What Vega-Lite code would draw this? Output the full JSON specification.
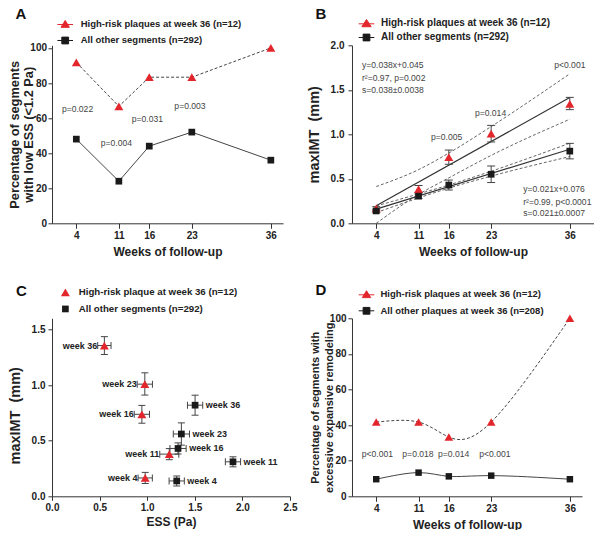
{
  "$schema": "https://vega.github.io/schema/vega-lite/v6.json",
  "padding": {"left": 7, "top": 6.3, "right": 0, "bottom": 0},
  "autosize": {"type": "pad"},
  "background": "white",
  "config": {
    "font": "Liberation Sans",
    "view": {"stroke": null},
    "axis": {"grid": false, "domainColor": "#333", "tickColor": "#333", "labelFont": "Liberation Sans", "labelFontSize": 10, "labelFontWeight": "bold", "labelColor": "#222", "titleFont": "Liberation Sans", "titleFontWeight": "bold", "titleFontSize": 12, "titleColor": "#222", "tickSize": 4, "labelFlush": false, "labelOverlap": false},
    "legend": {"labelFont": "Liberation Sans", "labelFontWeight": "bold", "labelColor": "#222", "labelLimit": 400, "padding": 0, "titlePadding": 0},
    "title": {"font": "Liberation Sans", "fontSize": 15, "fontWeight": "bold", "color": "#111", "anchor": "start", "frame": "group"}
  },
  "datasets": {
    "a": [
      {"grp": "High-risk plaques at week 36 (n=12)", "week": 4, "pct": 91.7},
      {"grp": "High-risk plaques at week 36 (n=12)", "week": 11, "pct": 66.7},
      {"grp": "High-risk plaques at week 36 (n=12)", "week": 16, "pct": 83.3},
      {"grp": "High-risk plaques at week 36 (n=12)", "week": 23, "pct": 83.3},
      {"grp": "High-risk plaques at week 36 (n=12)", "week": 36, "pct": 100},
      {"grp": "All other segments (n=292)", "week": 4, "pct": 48},
      {"grp": "All other segments (n=292)", "week": 11, "pct": 24},
      {"grp": "All other segments (n=292)", "week": 16, "pct": 44},
      {"grp": "All other segments (n=292)", "week": 23, "pct": 52},
      {"grp": "All other segments (n=292)", "week": 36, "pct": 36}
    ],
    "a_p": [
      {"week": 4.2, "pct": 65, "t": "p=0.022"},
      {"week": 10.6, "pct": 45.8, "t": "p=0.004"},
      {"week": 15.7, "pct": 59.5, "t": "p=0.031"},
      {"week": 22.7, "pct": 67, "t": "p=0.003"}
    ],
    "b": [
      {"grp": "High-risk plaques at week 36 (n=12)", "week": 4, "v": 0.167, "lo": 0.147, "hi": 0.187},
      {"grp": "High-risk plaques at week 36 (n=12)", "week": 11, "v": 0.385, "lo": 0.345, "hi": 0.425},
      {"grp": "High-risk plaques at week 36 (n=12)", "week": 16, "v": 0.743, "lo": 0.663, "hi": 0.823},
      {"grp": "High-risk plaques at week 36 (n=12)", "week": 23, "v": 1.007, "lo": 0.914, "hi": 1.1},
      {"grp": "High-risk plaques at week 36 (n=12)", "week": 36, "v": 1.342, "lo": 1.277, "hi": 1.415},
      {"grp": "All other segments (n=292)", "week": 4, "v": 0.139, "lo": 0.119, "hi": 0.159},
      {"grp": "All other segments (n=292)", "week": 11, "v": 0.305, "lo": 0.28, "hi": 0.33},
      {"grp": "All other segments (n=292)", "week": 16, "v": 0.43, "lo": 0.374, "hi": 0.486},
      {"grp": "All other segments (n=292)", "week": 23, "v": 0.551, "lo": 0.458, "hi": 0.644},
      {"grp": "All other segments (n=292)", "week": 36, "v": 0.811, "lo": 0.724, "hi": 0.898}
    ],
    "b_fit": [
      {"id": "r_fit", "style": "fit", "week": 4, "v": 0.197},
      {"id": "r_fit", "style": "fit", "week": 36, "v": 1.413},
      {"id": "k_fit", "style": "fit", "week": 4, "v": 0.16},
      {"id": "k_fit", "style": "fit", "week": 36, "v": 0.832},
      {"id": "r_up", "style": "ci", "week": 4, "v": 0.413},
      {"id": "r_up", "style": "ci", "week": 11, "v": 0.603},
      {"id": "r_up", "style": "ci", "week": 16, "v": 0.789},
      {"id": "r_up", "style": "ci", "week": 23, "v": 1.087},
      {"id": "r_up", "style": "ci", "week": 36, "v": 1.68},
      {"id": "r_lo", "style": "ci", "week": 4, "v": 0.0},
      {"id": "r_lo", "style": "ci", "week": 11, "v": 0.324},
      {"id": "r_lo", "style": "ci", "week": 16, "v": 0.51},
      {"id": "r_lo", "style": "ci", "week": 23, "v": 0.763},
      {"id": "r_lo", "style": "ci", "week": 36, "v": 1.169},
      {"id": "k_up", "style": "ci", "week": 4, "v": 0.195},
      {"id": "k_up", "style": "ci", "week": 11, "v": 0.33},
      {"id": "k_up", "style": "ci", "week": 16, "v": 0.43},
      {"id": "k_up", "style": "ci", "week": 23, "v": 0.585},
      {"id": "k_up", "style": "ci", "week": 36, "v": 0.9},
      {"id": "k_lo", "style": "ci", "week": 4, "v": 0.12},
      {"id": "k_lo", "style": "ci", "week": 11, "v": 0.285},
      {"id": "k_lo", "style": "ci", "week": 16, "v": 0.395},
      {"id": "k_lo", "style": "ci", "week": 23, "v": 0.53},
      {"id": "k_lo", "style": "ci", "week": 36, "v": 0.75}
    ],
    "b_p": [
      {"week": 15.65, "v": 0.966, "t": "p=0.005"},
      {"week": 22.9, "v": 1.236, "t": "p=0.014"},
      {"week": 36, "v": 1.78, "t": "p<0.001"}
    ],
    "b_eq": [
      {"week": 1.65, "v": 1.783, "t": "y=0.038x+0.045"},
      {"week": 1.65, "v": 1.635, "t": "r²=0.97, p=0.002"},
      {"week": 1.65, "v": 1.497, "t": "s=0.038±0.0038"},
      {"week": 28.3, "v": 0.387, "t": "y=0.021x+0.076"},
      {"week": 28.3, "v": 0.241, "t": "r²=0.99, p<0.0001"},
      {"week": 28.3, "v": 0.112, "t": "s=0.021±0.0007"}
    ],
    "c": [
      {"grp": "High-risk plaque at week 36 (n=12)", "lab": "week 36", "ess": 0.55, "xlo": 0.48, "xhi": 0.62, "v": 1.355, "lo": 1.275, "hi": 1.435},
      {"grp": "High-risk plaque at week 36 (n=12)", "lab": "week 23", "ess": 0.975, "xlo": 0.895, "xhi": 1.055, "v": 1.008, "lo": 0.91, "hi": 1.11},
      {"grp": "High-risk plaque at week 36 (n=12)", "lab": "week 16", "ess": 0.944, "xlo": 0.864, "xhi": 1.024, "v": 0.737, "lo": 0.657, "hi": 0.817},
      {"grp": "High-risk plaque at week 36 (n=12)", "lab": "week 11", "ess": 1.232, "xlo": 1.132, "xhi": 1.332, "v": 0.379, "lo": 0.329, "hi": 0.429},
      {"grp": "High-risk plaque at week 36 (n=12)", "lab": "week 4", "ess": 0.979, "xlo": 0.904, "xhi": 1.054, "v": 0.165, "lo": 0.115, "hi": 0.215},
      {"grp": "All other segments (n=292)", "lab": "week 36", "ess": 1.503, "xlo": 1.423, "xhi": 1.583, "v": 0.819, "lo": 0.729, "hi": 0.909},
      {"grp": "All other segments (n=292)", "lab": "week 23", "ess": 1.359, "xlo": 1.274, "xhi": 1.444, "v": 0.56, "lo": 0.46, "hi": 0.66},
      {"grp": "All other segments (n=292)", "lab": "week 16", "ess": 1.324, "xlo": 1.239, "xhi": 1.409, "v": 0.43, "lo": 0.38, "hi": 0.48},
      {"grp": "All other segments (n=292)", "lab": "week 11", "ess": 1.901, "xlo": 1.821, "xhi": 1.981, "v": 0.31, "lo": 0.265, "hi": 0.355},
      {"grp": "All other segments (n=292)", "lab": "week 4", "ess": 1.31, "xlo": 1.23, "xhi": 1.39, "v": 0.138, "lo": 0.093, "hi": 0.183}
    ],
    "d": [
      {"grp": "High-risk plaques at week 36 (n=12)", "week": 4, "pct": 41.7},
      {"grp": "High-risk plaques at week 36 (n=12)", "week": 11, "pct": 41.7},
      {"grp": "High-risk plaques at week 36 (n=12)", "week": 16, "pct": 33.3},
      {"grp": "High-risk plaques at week 36 (n=12)", "week": 23, "pct": 41.7},
      {"grp": "High-risk plaques at week 36 (n=12)", "week": 36, "pct": 100},
      {"grp": "All other plaques at week 36 (n=208)", "week": 4, "pct": 9.6},
      {"grp": "All other plaques at week 36 (n=208)", "week": 11, "pct": 13.3},
      {"grp": "All other plaques at week 36 (n=208)", "week": 16, "pct": 11.2},
      {"grp": "All other plaques at week 36 (n=208)", "week": 23, "pct": 11.6},
      {"grp": "All other plaques at week 36 (n=208)", "week": 36, "pct": 9.6}
    ],
    "d_p": [
      {"week": 4.2, "pct": 24, "t": "p<0.001"},
      {"week": 10.9, "pct": 24, "t": "p=0.018"},
      {"week": 16.8, "pct": 24, "t": "p=0.014"},
      {"week": 23.6, "pct": 24, "t": "p<0.001"}
    ]
  },
  "columns": 2,
  "spacing": {"row": 95, "column": 62},
  "bounds": "flush",
  "resolve": {
    "scale": {"color": "independent", "shape": "independent", "size": "independent", "stroke": "independent"},
    "legend": {"color": "independent", "shape": "independent", "size": "independent", "stroke": "independent"}
  },
  "concat": [
    {
      "width": 231, "height": 178,
      "title": {"text": "A", "dx": -36.6, "offset": -4.8},
      "data": {"name": "a"},
      "encoding": {
        "x": {"field": "week", "type": "quantitative", "scale": {"domain": [0, 38], "nice": false, "zero": false}, "axis": {"values": [4, 11, 16, 23, 36], "title": "Weeks of follow-up", "tickSize": 5, "labelPadding": 2, "titlePadding": 6}},
        "y": {"field": "pct", "type": "quantitative", "scale": {"domain": [0, 101.5], "nice": false}, "axis": {"values": [0, 20, 40, 60, 80, 100], "title": ["Percentage of segments", "with low ESS (<1.2 Pa)"], "titleFontSize": 12.8, "titleLineHeight": 15, "titleX": -31, "labelPadding": 1.5}}
      },
      "layer": [
        {"transform": [{"filter": "indexof(datum.grp,'High')==0"}],
         "mark": {"type": "line", "color": "#444", "strokeWidth": 1, "strokeDash": [3, 2]},
         "encoding": {}},
        {"transform": [{"filter": "indexof(datum.grp,'All')==0"}],
         "mark": {"type": "line", "color": "#444", "strokeWidth": 1},
         "encoding": {}},
        {"transform": [{"filter": "indexof(datum.grp,'High')==0"}],
         "mark": {"type": "point", "filled": true, "opacity": 1, "shape": "triangle-up", "size": 80, "color": "#e3262c"},
         "encoding": {}},
        {"transform": [{"filter": "indexof(datum.grp,'All')==0"}],
         "mark": {"type": "point", "filled": true, "opacity": 1, "shape": "square", "size": 45, "color": "#1a1a1a"},
         "encoding": {}},
        {"transform": [{"filter": "false"}],
         "mark": {"type": "point", "filled": true, "opacity": 1, "strokeWidth": 1},
         "encoding": {
           "color": {"field": "grp", "type": "nominal", "scale": {"domain": ["High-risk plaques at week 36 (n=12)", "All other segments (n=292)"], "range": ["#e3262c", "#1a1a1a"]},
             "legend": {"orient": "none", "legendX": 6.2, "legendY": -28.1, "title": null, "direction": "vertical", "symbolSize": 169, "rowPadding": 3.3, "labelOffset": 8.5, "labelFontSize": 9.5, "symbolStrokeWidth": 1}},
           "stroke": {"field": "grp", "type": "nominal", "scale": {"domain": ["High-risk plaques at week 36 (n=12)", "All other segments (n=292)"], "range": ["#e3262c", "#1a1a1a"]}},
           "shape": {"field": "grp", "type": "nominal", "scale": {"domain": ["High-risk plaques at week 36 (n=12)", "All other segments (n=292)"], "range": ["M-1.2,0.05H1.2M0,-0.58L0.64,0.48L-0.64,0.48Z", "M-1.2,0H1.2M-0.52,-0.52H0.52V0.52H-0.52Z"]}}
         }},
        {"data": {"name": "a_p"}, "mark": {"type": "text", "fontSize": 8.6, "color": "#444"},
         "encoding": {"text": {"field": "t", "type": "nominal"}}}
      ]
    },
    {
      "width": 242, "height": 178,
      "title": {"text": "B", "dx": -36.6, "offset": -5.5},
      "data": {"name": "b"},
      "encoding": {
        "x": {"field": "week", "type": "quantitative", "scale": {"domain": [0, 40], "nice": false, "zero": false}, "axis": {"values": [4, 11, 16, 23, 36], "title": "Weeks of follow-up", "tickSize": 5, "labelPadding": 2, "titlePadding": 6}},
        "y": {"field": "v", "type": "quantitative", "scale": {"domain": [0, 2], "nice": false}, "axis": {"values": [0, 0.5, 1, 1.5, 2], "format": ".1f", "title": "maxIMT\u00a0 (mm)", "titleFontSize": 14.5, "titleX": -30, "labelPadding": 4}}
      },
      "layer": [
        {"data": {"name": "b_fit"}, "transform": [{"filter": "datum.style == 'ci'"}],
         "mark": {"type": "line", "color": "#555", "strokeWidth": 0.9, "strokeDash": [3, 2], "interpolate": "monotone"},
         "encoding": {"detail": {"field": "id", "type": "nominal"}}},
        {"data": {"name": "b_fit"}, "transform": [{"filter": "datum.style == 'fit'"}],
         "mark": {"type": "line", "color": "#333", "strokeWidth": 1.2},
         "encoding": {"detail": {"field": "id", "type": "nominal"}}},
        {"mark": {"type": "rule", "color": "#444", "strokeWidth": 1},
         "encoding": {"y": {"field": "lo", "type": "quantitative"}, "y2": {"field": "hi"}}},
        {"mark": {"type": "tick", "orient": "horizontal", "size": 8, "thickness": 1, "color": "#444", "opacity": 1},
         "encoding": {"y": {"field": "lo", "type": "quantitative"}}},
        {"mark": {"type": "tick", "orient": "horizontal", "size": 8, "thickness": 1, "color": "#444", "opacity": 1},
         "encoding": {"y": {"field": "hi", "type": "quantitative"}}},
        {"transform": [{"filter": "indexof(datum.grp,'High')==0"}],
         "mark": {"type": "point", "filled": true, "opacity": 1, "shape": "triangle-up", "size": 80, "color": "#e3262c"},
         "encoding": {}},
        {"transform": [{"filter": "indexof(datum.grp,'All')==0"}],
         "mark": {"type": "point", "filled": true, "opacity": 1, "shape": "square", "size": 45, "color": "#1a1a1a"},
         "encoding": {}},
        {"transform": [{"filter": "false"}],
         "mark": {"type": "point", "filled": true, "opacity": 1, "strokeWidth": 1},
         "encoding": {
           "color": {"field": "grp", "type": "nominal", "scale": {"domain": ["High-risk plaques at week 36 (n=12)", "All other segments (n=292)"], "range": ["#e3262c", "#1a1a1a"]},
             "legend": {"orient": "none", "legendX": 7.5, "legendY": -28.8, "title": null, "direction": "vertical", "symbolSize": 169, "rowPadding": 1, "labelOffset": 7.5, "labelFontSize": 10, "symbolStrokeWidth": 1}},
           "stroke": {"field": "grp", "type": "nominal", "scale": {"domain": ["High-risk plaques at week 36 (n=12)", "All other segments (n=292)"], "range": ["#e3262c", "#1a1a1a"]}},
           "shape": {"field": "grp", "type": "nominal", "scale": {"domain": ["High-risk plaques at week 36 (n=12)", "All other segments (n=292)"], "range": ["M-1.2,0.05H1.2M0,-0.62L0.72,0.5L-0.72,0.5Z", "M-1.2,0H1.2M-0.52,-0.52H0.52V0.52H-0.52Z"]}}
         }},
        {"data": {"name": "b_p"}, "mark": {"type": "text", "fontSize": 8.6, "color": "#444"},
         "encoding": {"text": {"field": "t", "type": "nominal"}}},
        {"data": {"name": "b_eq"}, "mark": {"type": "text", "fontSize": 8.6, "color": "#444", "align": "left"},
         "encoding": {"text": {"field": "t", "type": "nominal"}}}
      ]
    },
    {
      "width": 238, "height": 178,
      "title": {"text": "C", "dx": -36, "offset": -12.2},
      "data": {"name": "c"},
      "encoding": {
        "x": {"field": "ess", "type": "quantitative", "scale": {"domain": [0, 2.5], "nice": false, "zero": false}, "axis": {"values": [0, 0.5, 1, 1.5, 2, 2.5], "format": ".1f", "title": "ESS (Pa)", "tickSize": 4, "labelPadding": 2, "titlePadding": 4}},
        "y": {"field": "v", "type": "quantitative", "scale": {"domain": [0, 1.6], "nice": false}, "axis": {"values": [0, 0.5, 1, 1.5], "format": ".1f", "title": "maxIMT\u00a0 (mm)", "titleFontSize": 14.5, "titleX": -29.3, "titleY": 97, "labelPadding": 3}}
      },
      "layer": [
        {"mark": {"type": "rule", "color": "#444", "strokeWidth": 1},
         "encoding": {"y": {"field": "lo", "type": "quantitative"}, "y2": {"field": "hi"}}},
        {"mark": {"type": "tick", "orient": "horizontal", "size": 7, "thickness": 1, "color": "#444", "opacity": 1},
         "encoding": {"y": {"field": "lo", "type": "quantitative"}}},
        {"mark": {"type": "tick", "orient": "horizontal", "size": 7, "thickness": 1, "color": "#444", "opacity": 1},
         "encoding": {"y": {"field": "hi", "type": "quantitative"}}},
        {"mark": {"type": "rule", "color": "#444", "strokeWidth": 1},
         "encoding": {"x": {"field": "xlo", "type": "quantitative"}, "x2": {"field": "xhi"}}},
        {"mark": {"type": "tick", "orient": "vertical", "size": 7, "thickness": 1, "color": "#444", "opacity": 1},
         "encoding": {"x": {"field": "xlo", "type": "quantitative"}}},
        {"mark": {"type": "tick", "orient": "vertical", "size": 7, "thickness": 1, "color": "#444", "opacity": 1},
         "encoding": {"x": {"field": "xhi", "type": "quantitative"}}},
        {"mark": {"type": "point", "filled": true, "opacity": 1},
         "encoding": {
           "color": {"field": "grp", "type": "nominal", "scale": {"domain": ["High-risk plaque at week 36 (n=12)", "All other segments (n=292)"], "range": ["#e3262c", "#1a1a1a"]},
             "legend": {"orient": "none", "legendX": 7.9, "legendY": -31.5, "title": null, "direction": "vertical", "symbolSize": 81, "rowPadding": 5.3, "labelOffset": 7.8, "labelFontSize": 9.7,
               "encode": {"symbols": {
                 "shape": {"condition": {"test": "indexof(datum.value,'All')==0", "value": "square"}, "value": "triangle-up"},
                 "size": {"condition": {"test": "indexof(datum.value,'All')==0", "value": 50}, "value": 85}
               }}}},
           "shape": {"field": "grp", "type": "nominal", "scale": {"domain": ["High-risk plaque at week 36 (n=12)", "All other segments (n=292)"], "range": ["triangle-up", "square"]}, "legend": null},
           "size": {"field": "grp", "type": "ordinal", "scale": {"domain": ["High-risk plaque at week 36 (n=12)", "All other segments (n=292)"], "range": [80, 45]}, "legend": null}
         }},
        {"transform": [{"filter": "indexof(datum.grp,'High')==0"}],
         "mark": {"type": "text", "fontSize": 9, "fontWeight": "bold", "color": "#222", "align": "right", "dx": -0.5},
         "encoding": {"x": {"field": "xlo", "type": "quantitative"}, "text": {"field": "lab", "type": "nominal"}}},
        {"transform": [{"filter": "indexof(datum.grp,'All')==0"}],
         "mark": {"type": "text", "fontSize": 9, "fontWeight": "bold", "color": "#222", "align": "left", "dx": 3},
         "encoding": {"x": {"field": "xhi", "type": "quantitative"}, "text": {"field": "lab", "type": "nominal"}}}
      ]
    },
    {
      "width": 230, "height": 178,
      "title": {"text": "D", "dx": -36.6, "offset": -10.8},
      "data": {"name": "d"},
      "encoding": {
        "x": {"field": "week", "type": "quantitative", "scale": {"domain": [0, 38], "nice": false, "zero": false}, "axis": {"values": [4, 11, 16, 23, 36], "title": "Weeks of follow-up", "tickSize": 5, "labelPadding": 2, "titlePadding": 6}},
        "y": {"field": "pct", "type": "quantitative", "scale": {"domain": [0, 100], "nice": false}, "axis": {"values": [0, 20, 40, 60, 80, 100], "title": ["Percentage of segments with", "excessive expansive remodeling"], "titleFontSize": 11, "titleLineHeight": 14, "titleX": -31.6, "labelPadding": 2}}
      },
      "layer": [
        {"transform": [{"filter": "indexof(datum.grp,'High')==0"}],
         "mark": {"type": "line", "color": "#444", "strokeWidth": 1, "strokeDash": [3, 2], "interpolate": "natural"},
         "encoding": {}},
        {"transform": [{"filter": "indexof(datum.grp,'All')==0"}],
         "mark": {"type": "line", "color": "#444", "strokeWidth": 1, "interpolate": "natural"},
         "encoding": {}},
        {"transform": [{"filter": "indexof(datum.grp,'High')==0"}],
         "mark": {"type": "point", "filled": true, "opacity": 1, "shape": "triangle-up", "size": 75, "color": "#e3262c"},
         "encoding": {}},
        {"transform": [{"filter": "indexof(datum.grp,'All')==0"}],
         "mark": {"type": "point", "filled": true, "opacity": 1, "shape": "square", "size": 42, "color": "#1a1a1a"},
         "encoding": {}},
        {"transform": [{"filter": "false"}],
         "mark": {"type": "point", "filled": true, "opacity": 1, "strokeWidth": 1},
         "encoding": {
           "color": {"field": "grp", "type": "nominal", "scale": {"domain": ["High-risk plaques at week 36 (n=12)", "All other plaques at week 36 (n=208)"], "range": ["#e3262c", "#1a1a1a"]},
             "legend": {"orient": "none", "legendX": 7.5, "legendY": -30.8, "title": null, "direction": "vertical", "symbolSize": 169, "rowPadding": 3.3, "labelOffset": 6.9, "labelFontSize": 9.5, "symbolStrokeWidth": 1}},
           "stroke": {"field": "grp", "type": "nominal", "scale": {"domain": ["High-risk plaques at week 36 (n=12)", "All other plaques at week 36 (n=208)"], "range": ["#e3262c", "#1a1a1a"]}},
           "shape": {"field": "grp", "type": "nominal", "scale": {"domain": ["High-risk plaques at week 36 (n=12)", "All other plaques at week 36 (n=208)"], "range": ["M-1.2,0.05H1.2M0,-0.58L0.64,0.48L-0.64,0.48Z", "M-1.2,0H1.2M-0.52,-0.52H0.52V0.52H-0.52Z"]}}
         }},
        {"data": {"name": "d_p"}, "mark": {"type": "text", "fontSize": 8.6, "color": "#444"},
         "encoding": {"text": {"field": "t", "type": "nominal"}}}
      ]
    }
  ]
}
